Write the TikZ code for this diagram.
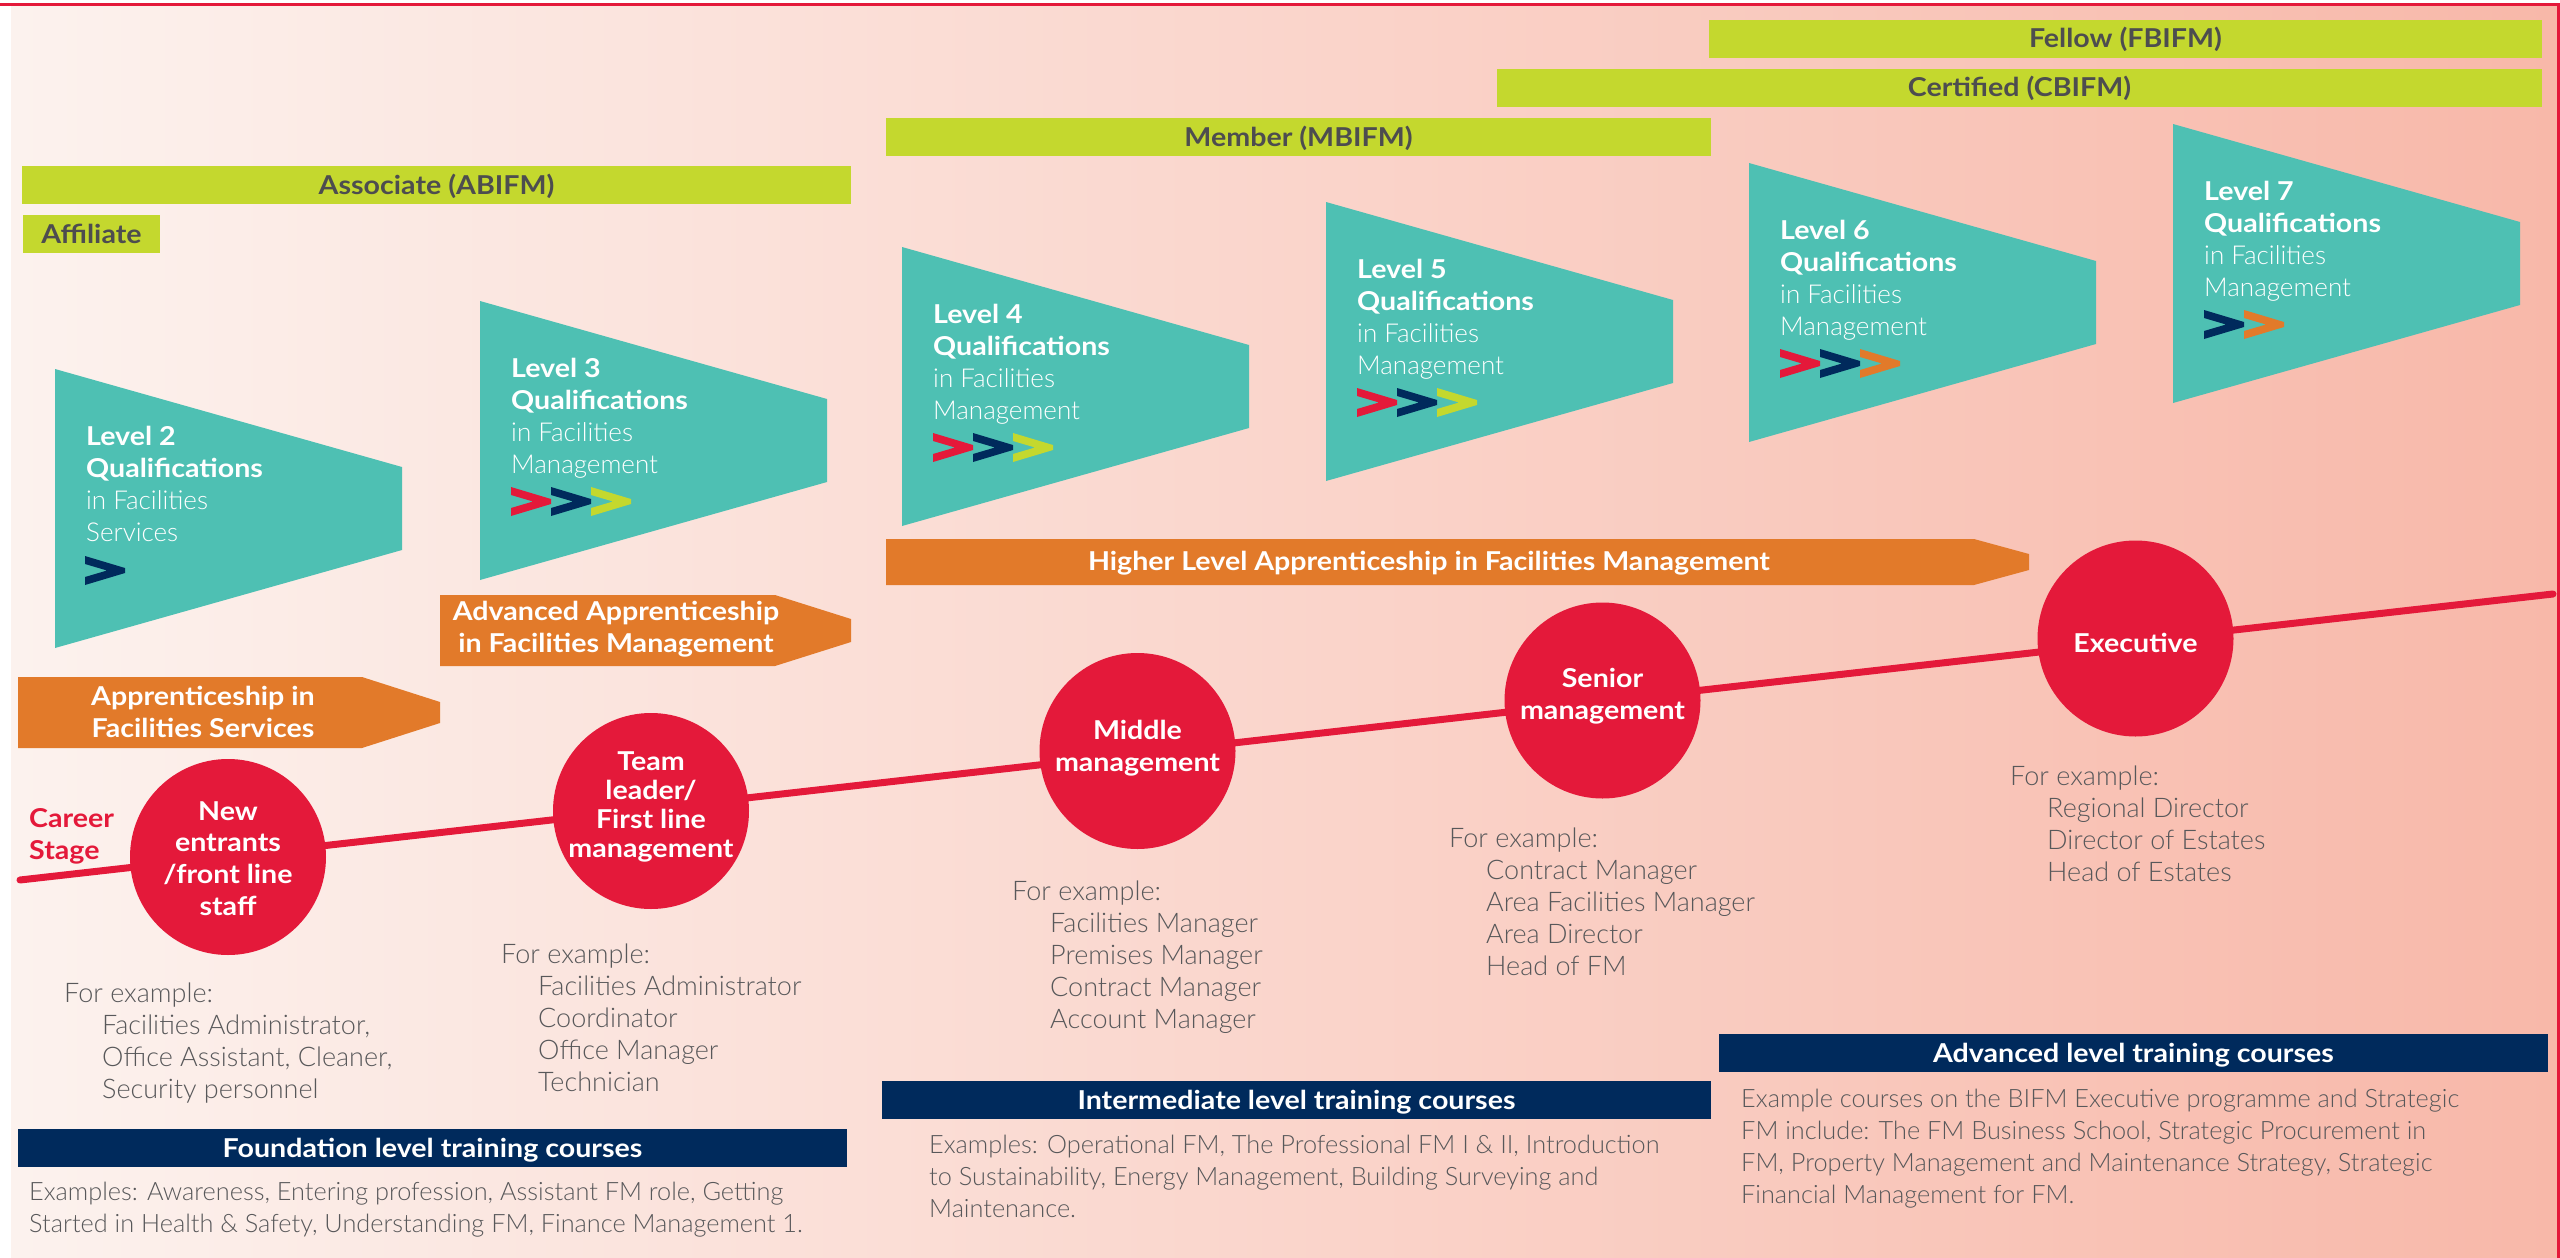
\documentclass[tikz,border=0pt]{standalone}
\usepackage{fontspec}
\setmainfont{Lato}[BoldFeatures={FakeStretch=1.1}]
\newfontfamily\lightf{Lato Light}
\definecolor{bgL}{HTML}{FCF2EE}
\definecolor{bgR}{HTML}{F8B8A9}
\definecolor{cLime}{HTML}{C4D82E}
\definecolor{cDark}{HTML}{4D4D4F}
\definecolor{cTeal}{HTML}{4EC0B3}
\definecolor{cOrange}{HTML}{E27A2A}
\definecolor{cRed}{HTML}{E4193A}
\definecolor{cNavy}{HTML}{002A5C}
\definecolor{cGray}{HTML}{58585A}
\tikzset{
  boldf/.style={font=\bfseries\fontsize{26}{30}\selectfont},
  lightfont/.style={font=\lightf\fontsize{26}{30}\selectfont},
  barbox/.style={boldf, inner sep=0pt, text height=18pt, text depth=0pt, minimum height=38pt},
  membar/.style={barbox, fill=cLime, text=cDark},
  navbar/.style={barbox, fill=cNavy, text=white},
  lvlbold/.style={boldf, text=white, inner sep=0pt, anchor=base west},
  lvllight/.style={lightfont, text=white, inner sep=0pt, anchor=base west},
  bantext/.style={boldf, text=white, inner sep=0pt, anchor=base},
  stagetext/.style={boldf, text=white, inner sep=0pt, anchor=base},
  stagecircle/.style={circle, fill=cRed, minimum size=196pt, inner sep=0pt},
  graytext/.style={font=\lightf\fontsize{27}{30}\selectfont, text=cGray, inner sep=0pt, anchor=base west},
  desctext/.style={font=\lightf\fontsize{25.3}{30}\selectfont, text=cGray, inner sep=0pt, anchor=base west},
}
\newcommand\textlines[6]{%
  \foreach \myline [count=\i from 0] in {#6}{%
    \node[#5] (#1-\i) at (#2,{#3+\i*#4}) {\myline};}}
\newcommand\chev[3]{%
  \fill[#3] (#1,#2) -- ++(40,12) -- ++(0,5) -- ++(-40,12) -- ++(0,-8)
    -- ++(22,-6.5) -- ++(-22,-6.5) -- cycle;}
\newcommand\trap[2]{%
  \fill[cTeal] (#1,#2) -- ++(347,98) -- ++(0,83) -- (#1,{#2+279}) -- cycle;}
\newcommand\banner[6]{% x1 xflat xtip y1 y2 a
  \fill[cOrange] (#1,#4) -- (#2,#4) -- (#3,{#4+#6}) -- (#3,{#5-#6}) -- (#2,#5) -- (#1,#5) -- cycle;}
\begin{document}
\begin{tikzpicture}[x=1pt,y=-1pt]
\useasboundingbox (0,0) rectangle (2560,1258);
\fill[white] (0,0) rectangle (2560,1258);
\shade[left color=bgL, right color=bgR] (11,5) rectangle (2557,1258);
\fill[cRed] (0,3) rectangle (2560,6);
\fill[cRed] (2556.5,3) rectangle (2559.5,1258);

% membership bars
\node[membar, minimum width=833pt] (fellow) at (2125.5,38.5) {Fellow (FBIFM)};
\node[membar, minimum width=1045pt] (certified) at (2019.5,87.5) {Certified (CBIFM)};
\node[membar, minimum width=825pt] (member) at (1298.5,137) {Member (MBIFM)};
\node[membar, minimum width=829pt] (associate) at (436.5,185) {Associate (ABIFM)};
\node[membar, minimum width=137pt] (affiliate) at (91.5,234) {Affiliate};

% level shapes
\trap{55}{369}
\trap{480}{301}
\trap{902}{247}
\trap{1326}{202}
\trap{1749}{163}
\trap{2173}{124}

\textlines{l2b}{86}{445}{32}{lvlbold}{{Level 2},Qualifications}
\textlines{l2l}{86}{509}{32}{lvllight}{{in Facilities},Services}
\textlines{l3b}{511}{377}{32}{lvlbold}{{Level 3},Qualifications}
\textlines{l3l}{511}{441}{32}{lvllight}{{in Facilities},Management}
\textlines{l4b}{933}{323}{32}{lvlbold}{{Level 4},Qualifications}
\textlines{l4l}{933}{387}{32}{lvllight}{{in Facilities},Management}
\textlines{l5b}{1357}{278}{32}{lvlbold}{{Level 5},Qualifications}
\textlines{l5l}{1357}{342}{32}{lvllight}{{in Facilities},Management}
\textlines{l6b}{1780}{239}{32}{lvlbold}{{Level 6},Qualifications}
\textlines{l6l}{1780}{303}{32}{lvllight}{{in Facilities},Management}
\textlines{l7b}{2204}{200}{32}{lvlbold}{{Level 7},Qualifications}
\textlines{l7l}{2204}{264}{32}{lvllight}{{in Facilities},Management}

\chev{85}{556}{cNavy}
\chev{511}{487}{cRed}\chev{551}{487}{cNavy}\chev{591}{487}{cLime}
\chev{933}{433}{cRed}\chev{973}{433}{cNavy}\chev{1013}{433}{cLime}
\chev{1357}{388}{cRed}\chev{1397}{388}{cNavy}\chev{1437}{388}{cLime}
\chev{1780}{349}{cRed}\chev{1820}{349}{cNavy}\chev{1860}{349}{cOrange}
\chev{2204}{310}{cNavy}\chev{2244}{310}{cOrange}

% apprenticeship banners
\banner{18}{362}{440}{677}{748}{25}
\banner{440}{775}{851}{595}{666}{24}
\banner{886}{1974}{2029}{539}{585}{15}
\textlines{b1}{203}{705}{32}{bantext}{{Apprenticeship in},{Facilities Services}}
\textlines{b2}{616}{620}{32}{bantext}{{Advanced Apprenticeship},{in Facilities Management}}
\node[bantext] (b3) at (1429,570) {Higher Level Apprenticeship in Facilities Management};

% career line
\coordinate (lstart) at (20,880);
\coordinate (lend) at (2553,594);
\draw[cRed, line width=7pt, line cap=round] (lstart) -- (lend);
\node[stagecircle] (c1) at (228,857) {};
\node[stagecircle] (c2) at (651,811) {};
\node[stagecircle] (c3) at (1137.5,751) {};
\node[stagecircle] (c4) at (1602.5,700.5) {};
\node[stagecircle] (c5) at (2135.5,638.5) {};
\textlines{s1}{228}{820}{31.7}{stagetext}{New,entrants,{/front line},staff}
\textlines{s2}{651}{770}{29}{stagetext}{Team,leader/,{First line},management}
\textlines{s3}{1137.5}{739}{32}{stagetext}{Middle,management}
\textlines{s4}{1602.5}{687}{32}{stagetext}{Senior,management}
\node[stagetext] (s5) at (2135.5,652) {Executive};
\textlines{career}{29}{827}{32}{boldf, text=cRed, inner sep=0pt, anchor=base west}{Career,Stage}

% example lists
\node[graytext] (e1) at (64,1002) {For example:};
\textlines{e1i}{102}{1034}{32}{graytext}{{Facilities Administrator,},{Office Assistant, Cleaner,},{Security personnel}}
\node[graytext] (e2) at (501,963) {For example:};
\textlines{e2i}{538}{995}{32}{graytext}{{Facilities Administrator},Coordinator,{Office Manager},Technician}
\node[graytext] (e3) at (1012,900) {For example:};
\textlines{e3i}{1050}{932}{32}{graytext}{{Facilities Manager},{Premises Manager},{Contract Manager},{Account Manager}}
\node[graytext] (e4) at (1449,847) {For example:};
\textlines{e4i}{1486}{879}{32}{graytext}{{Contract Manager},{Area Facilities Manager},{Area Director},{Head of FM}}
\node[graytext] (e5) at (2010,785) {For example:};
\textlines{e5i}{2047}{817}{32}{graytext}{{Regional Director},{Director of Estates},{Head of Estates}}

% training courses
\node[navbar, minimum width=829pt] (found) at (432.5,1148) {Foundation level training courses};
\node[navbar, minimum width=829pt] (inter) at (1296.5,1100) {Intermediate level training courses};
\node[navbar, minimum width=829pt] (adv) at (2133.5,1053) {Advanced level training courses};
\textlines{fd}{29}{1200}{32}{desctext}{{Examples: Awareness, Entering profession, Assistant FM role, Getting},{Started in Health \& Safety, Understanding FM, Finance Management 1.}}
\textlines{id}{929}{1153}{32}{desctext}{{Examples: Operational FM, The Professional FM I \& II, Introduction},{to Sustainability, Energy Management, Building Surveying and},{Maintenance.}}
\textlines{ad}{1741}{1107}{32}{desctext}{{Example courses on the BIFM Executive programme and Strategic},{FM include: The FM Business School, Strategic Procurement in},{FM, Property Management and Maintenance Strategy, Strategic},{Financial Management for FM.}}
\end{tikzpicture}
\end{document}
